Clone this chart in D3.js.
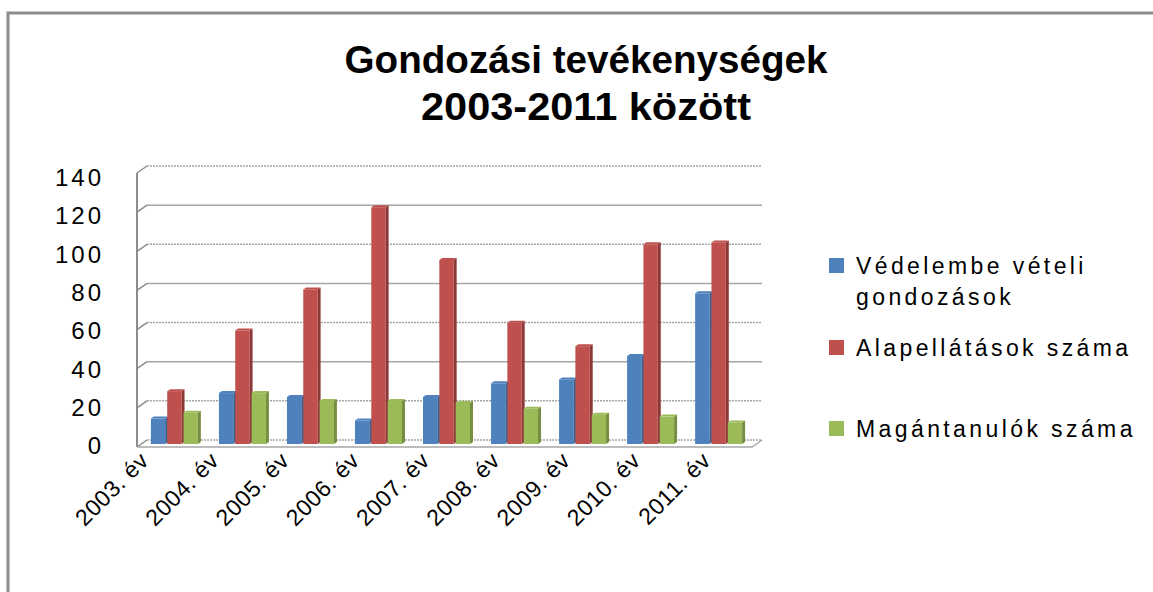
<!DOCTYPE html>
<meta charset="utf-8">
<head>
<style>
body { margin: 0; background: #fff; }
text { font-family: "Liberation Sans", Arial, sans-serif; fill: #000; }
.title { font-size: 38px; font-weight: bold; text-anchor: middle; }
.ylab { font-size: 24px; letter-spacing: 3px; }
.xlab { font-size: 23px; letter-spacing: 0.5px; }
.legend { font-size: 23px; letter-spacing: 3.4px; }
</style>
</head>
<body>
<div id="chart"></div>
<script src="https://d3js.org/d3.v7.min.js"></script>
<script>
// data
var years = ["2003. év", "2004. év", "2005. év", "2006. év", "2007. év", "2008. év", "2009. év", "2010. év", "2011. év"];
var vedelem = [13, 26, 24, 12, 24, 31, 33, 45, 77];
var alapellatas = [27, 58, 79, 121, 94, 62, 50, 102, 103];
var magantanulo = [16, 26, 22, 22, 21, 18, 15, 14, 11];
var seriesNames = ["Védelembe vételi|gondozások", "Alapellátások száma", "Magántanulók száma"];
var yTicks = [0, 20, 40, 60, 80, 100, 120, 140];

var colors = ["#4F81BD", "#C0504D", "#9BBB59"];
var sideColors = ["#3A6391", "#8E3835", "#758E40"];

var W = 1153, H = 592;
var svg = d3.select("#chart").append("svg")
    .attr("width", W).attr("height", H);

// outer frame (only top and left are visible)
svg.append("path")
  .attr("d", "M8," + H + "V13H" + W)
  .attr("fill", "none")
  .attr("stroke", "#8c8c8c")
  .attr("stroke-width", 3);

// title
svg.append("text").attr("class", "title").attr("x", 586).attr("y", 73)
  .attr("textLength", 483).attr("lengthAdjust", "spacingAndGlyphs")
  .text("Gondozási tevékenységek");
svg.append("text").attr("class", "title").attr("x", 586).attr("y", 120)
  .attr("textLength", 330).attr("lengthAdjust", "spacingAndGlyphs")
  .text("2003-2011 között");

// scales
var xLeft = 137, xRight = 752;
var depthX = 10, depthY = -7;
var y = d3.scaleLinear().domain([0, 140]).range([447, 173]);
var yLab = d3.scaleLinear().domain([0, 140]).range([446, 178]);
var x0 = d3.scaleBand().domain(years).range([xLeft, xRight]).paddingInner(0.28).paddingOuter(0.16);
var x1 = d3.scaleBand().domain([0, 1, 2]).range([0, x0.bandwidth()]);
var xLab = d3.scalePoint().domain(years).range([150, 712]);

// walls: back gridlines + left wall slants
var grid = svg.append("g");
yTicks.forEach(function(v) {
  grid.append("line")
    .attr("x1", xLeft + depthX).attr("x2", xRight + depthX)
    .attr("y1", y(v) + depthY).attr("y2", y(v) + depthY)
    .attr("stroke", "#a6a6a6").attr("stroke-width", 1.5)
    .attr("stroke-dasharray", (v % 40 == 0 && v != 0) ? null : "2,1");
  grid.append("line")
    .attr("x1", xLeft).attr("y1", y(v))
    .attr("x2", xLeft + depthX).attr("y2", y(v) + depthY)
    .attr("stroke", "#8c8c8c").attr("stroke-width", 1.5);
});
grid.append("line")
  .attr("x1", xLeft).attr("x2", xLeft)
  .attr("y1", y(140)).attr("y2", y(0))
  .attr("stroke", "#8c8c8c").attr("stroke-width", 2);
// floor front edge
grid.append("path")
  .attr("d", "M" + xLeft + "," + y(0) + "H" + xRight + "L" + (xRight + depthX) + "," + (y(0) + depthY))
  .attr("fill", "none").attr("stroke", "#a6a6a6").attr("stroke-width", 1.5);

// bars with a small 3d look
var allSeries = [vedelem, alapellatas, magantanulo];
var side = 3, lift = 2;
var bars = svg.append("g").attr("transform", "translate(3,-3)");
years.forEach(function(yr, i) {
  var g = bars.append("g").attr("transform", "translate(" + x0(yr) + ",0)");
  allSeries.forEach(function(s, k) {
    var bx = x1(k), bw = x1.bandwidth() - side + 1;
    var top = y(s[i]), base = y(0);
    g.append("rect")
      .attr("x", bx).attr("y", top)
      .attr("width", bw).attr("height", base - top)
      .attr("fill", colors[k]);
    g.append("path")
      .attr("d", "M" + (bx + bw) + "," + top + "L" + (bx + bw + side) + "," + (top - lift) +
                 "V" + (base - lift) + "L" + (bx + bw) + "," + base + "Z")
      .attr("fill", sideColors[k]);
    g.append("path")
      .attr("d", "M" + bx + "," + top + "L" + (bx + side) + "," + (top - lift) +
                 "H" + (bx + bw + side) + "L" + (bx + bw) + "," + top + "Z")
      .attr("fill", colors[k]);
  });
});

// y axis labels
var yAxis = svg.append("g")
  .attr("transform", "translate(104,0)")
  .call(d3.axisLeft(yLab).tickValues(yTicks).tickSize(0).tickPadding(0));
yAxis.select(".domain").remove();
yAxis.attr("font-family", null).attr("font-size", null);
yAxis.selectAll("text").attr("class", "ylab").attr("fill", "#000");

// x labels, rotated
svg.append("g").selectAll("text")
  .data(years).enter().append("text")
    .attr("class", "xlab")
    .attr("text-anchor", "end")
    .attr("transform", function(d) {
      return "translate(" + xLab(d) + ",462) rotate(-45)";
    })
    .text(function(d) { return d; });

// legend
var legend = svg.append("g");
var legendY = [258, 340, 421];
seriesNames.forEach(function(name, k) {
  legend.append("rect")
    .attr("x", 829).attr("y", legendY[k])
    .attr("width", 15).attr("height", 15)
    .attr("fill", colors[k]);
  var t = legend.append("text").attr("class", "legend")
    .attr("x", 856).attr("y", legendY[k] + 16);
  name.split("|").forEach(function(line, j) {
    t.append("tspan").attr("x", 856).attr("dy", j == 0 ? 0 : 31).text(line);
  });
});
</script>
</body>
